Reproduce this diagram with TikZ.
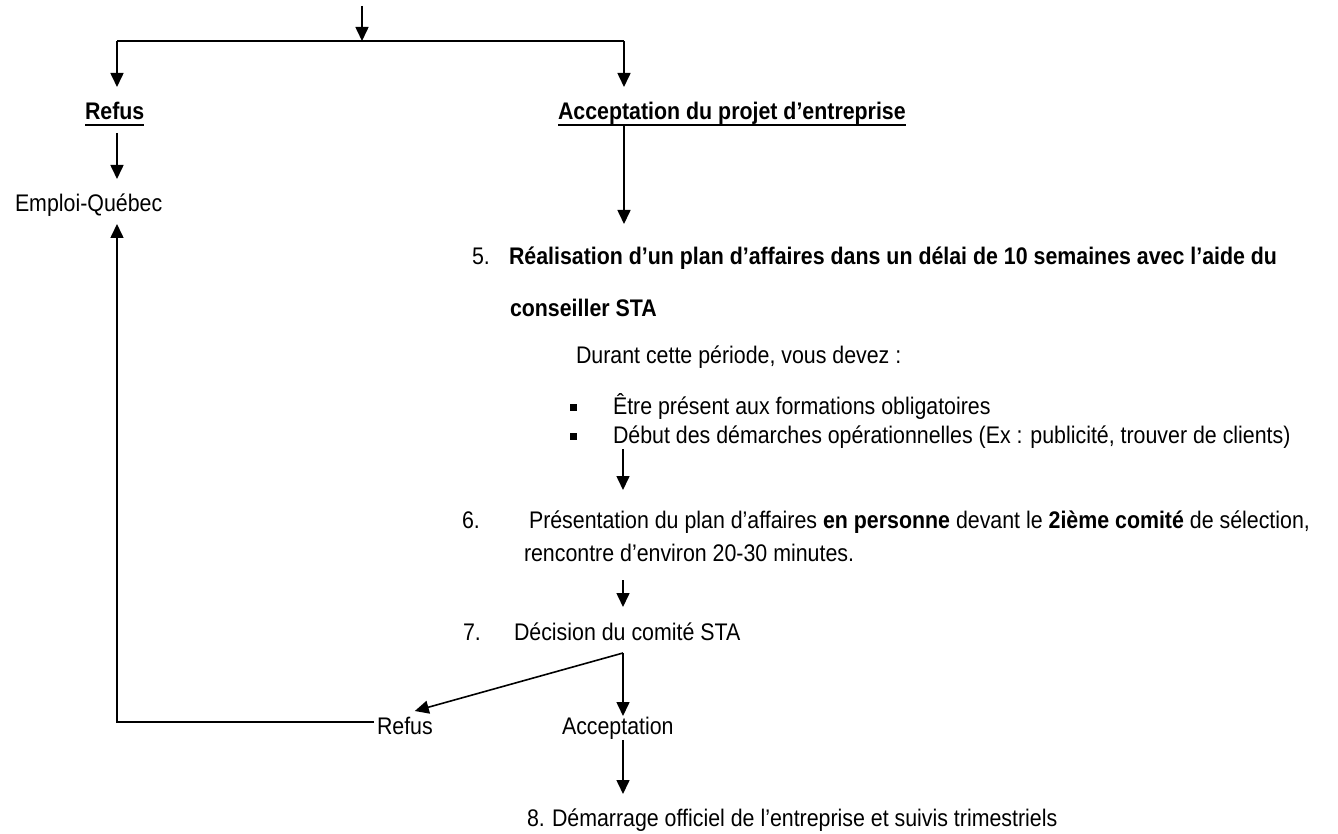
\documentclass[tikz,border=0pt]{standalone}
\usepackage{fontspec}
\setmainfont{Liberation Sans}[FakeStretch=0.89]
\usetikzlibrary{arrows.meta,calc}
\begin{document}
\begin{tikzpicture}[x=0.5pt,y=-0.5pt,
  txt/.style={anchor=base west,inner sep=0pt,outer sep=0pt,font=\fontsize{12pt}{14pt}\selectfont},
  ln/.style={line width=0.8pt,black},
  arr/.style={ln,-{Triangle[width=6.5pt,length=7pt]}},
  uline/.style={line width=1pt,black},
  bul/.style={fill=black,inner sep=0pt,minimum size=3.5pt,draw=none}]
\useasboundingbox (0,0) rectangle (1338,834);

% text nodes
\node[txt] (trefus) at (85,120) {\textbf{Refus}};
\node[txt] (tacc) at (558,120) {\textbf{Acceptation du projet d’entreprise}};
\node[txt] (emploi) at (15,212) {Emploi-Québec};
\node[txt] (n5) at (472,264) {5.};
\node[txt] (t5) at (509,264) {\textbf{Réalisation d’un plan d’affaires dans un délai de 10 semaines avec l’aide du}};
\node[txt] (t5b) at (510,316) {\textbf{conseiller STA}};
\node[txt] (durant) at (576,363) {Durant cette période, vous devez :};
\node[bul] (b1) at (573,407) {};
\node[txt] (etre) at (613,414) {Être présent aux formations obligatoires};
\node[bul] (b2) at (573,436) {};
\node[txt] (debut) at (613,443) {Début des démarches opérationnelles (Ex : publicité, trouver de clients)};
\node[txt] (n6) at (462,528) {6.};
\node[txt] (t6) at (529,528) {Présentation du plan d’affaires \textbf{en personne} devant le \textbf{2ième comité} de sélection,};
\node[txt] (t6b) at (524,561) {rencontre d’environ 20-30 minutes.};
\node[txt] (n7) at (463,640) {7.};
\node[txt] (t7) at (514,640) {Décision du comité STA};
\node[txt] (refus2) at (377,734) {Refus};
\node[txt] (acc2) at (562,734) {Acceptation};
\node[txt] (n8) at (527,826) {8.};
\node[txt] (t8) at (552,826) {Démarrage officiel de l’entreprise et suivis trimestriels};

% underlines
\draw[uline] ($(trefus.base west)+(0,5)$) -- ($(trefus.base east)+(0,5)$);
\draw[uline] ($(tacc.base west)+(0,5)$) -- ($(tacc.base east)+(0,5)$);

% coordinates
\coordinate (top) at (362,6);
\coordinate (split) at (362,41);
\coordinate (cl) at (117,41);
\coordinate (cr) at (624,41);
\coordinate (mainx) at (623,0);
\coordinate (jn) at ($(mainx |- t7.base)+(0,13)$);

% connectors
\draw[arr] (top) -- (split);
\draw[ln] (cl) -- (cr);
\draw[arr] (cl) -- ($(cl |- trefus.base)+(0,-33)$);
\draw[arr] (cr) -- ($(cr |- tacc.base)+(0,-33)$);
\draw[arr] ($(cl |- trefus.base)+(0,13)$) -- ($(cl |- emploi.base)+(0,-33)$);
\draw[arr] ($(cr |- tacc.base)+(0,6)$) -- ($(cr |- t5.base)+(0,-40)$);
\draw[arr] ($(mainx |- debut.base)+(0,6)$) -- ($(mainx |- t6.base)+(0,-38)$);
\draw[arr] ($(mainx |- t6b.base)+(0,19)$) -- ($(mainx |- t7.base)+(0,-33)$);
\draw[arr] (jn) -- ($(refus2.base east)+(-18,-23)$);
\draw[arr] (jn) -- ($(mainx |- acc2.base)+(0,-18)$);
\draw[arr] ($(mainx |- acc2.base)+(0,6)$) -- ($(mainx |- t8.base)+(0,-32)$);
\draw[arr] ($(refus2.base west)+(-3,-12)$) -| ($(cl |- emploi.base)+(0,12)$);
\end{tikzpicture}
\end{document}
